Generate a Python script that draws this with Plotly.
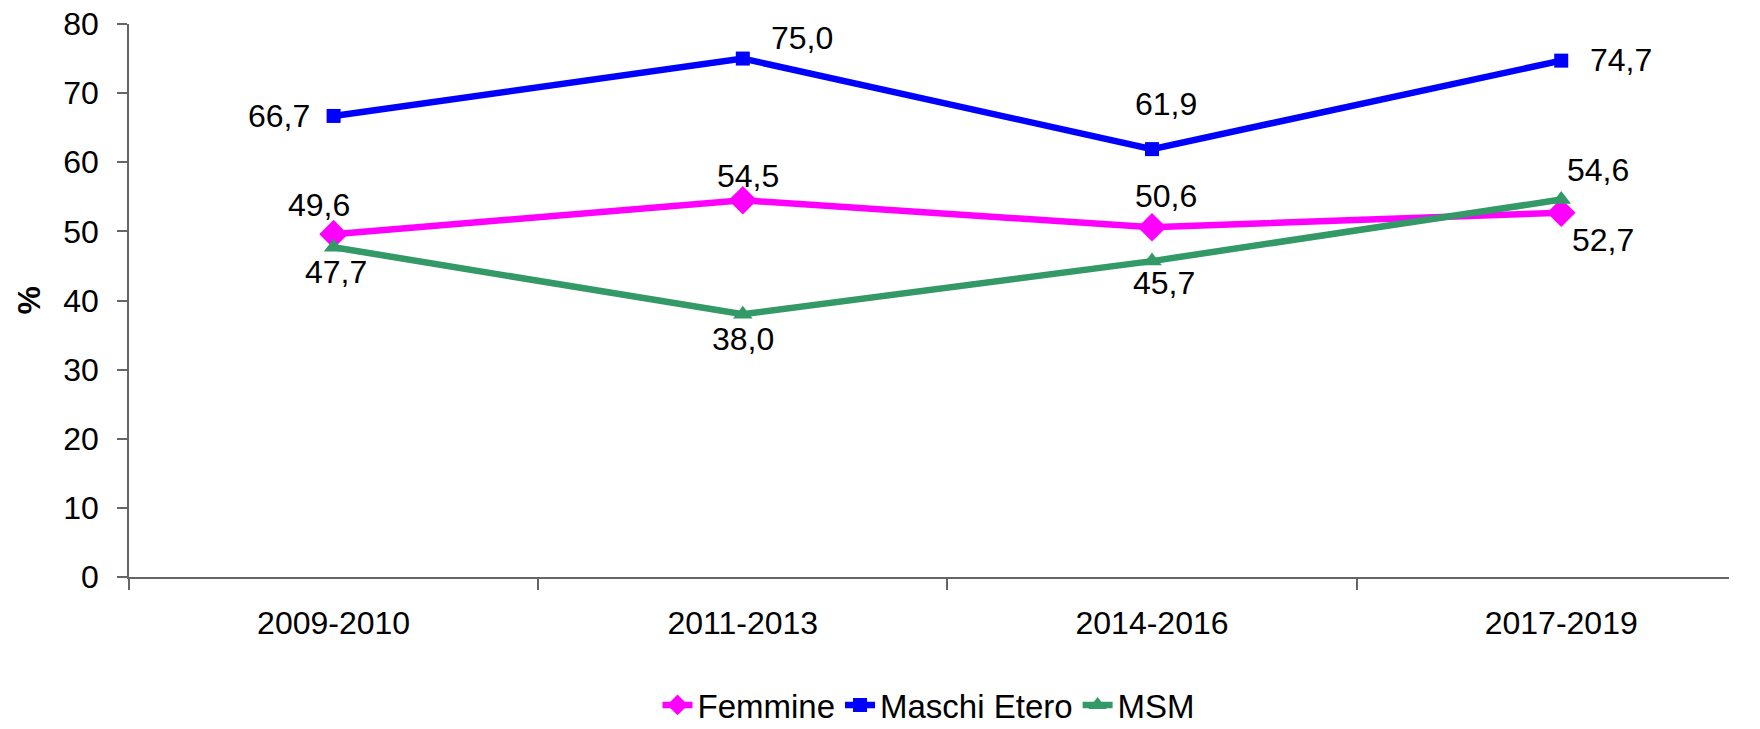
import plotly.graph_objects as go

categories = ["2009-2010", "2011-2013", "2014-2016", "2017-2019"]
femmine = [49.6, 54.5, 50.6, 52.7]
maschi_etero = [66.7, 75.0, 61.9, 74.7]
msm = [47.7, 38.0, 45.7, 54.6]
y_ticks = [0, 10, 20, 30, 40, 50, 60, 70, 80]

# label offsets (pixels) per point: (xshift, yshift, xanchor)
fem_off = [(-15, 29, "center"), (5, 24, "center"), (14, 31, "center"), (42, -27, "center")]
mas_off = [(-22, 0, "right"), (26, 21, "left"), (14, 45, "center"), (27, 1, "left")]
msm_off = [(2, -25, "center"), (0, -25, "center"), (12, -22, "center"), (37, 30, "center")]

FONT = "Liberation Sans, Arial, sans-serif"
FS = 32

series = [
    ("Femmine", femmine, "#FF00FF", "diamond", 22, fem_off),
    ("Maschi Etero", maschi_etero, "#0000FF", "square", 14, mas_off),
    ("MSM", msm, "#339966", "triangle-up", 17, msm_off),
]

fig = go.Figure()
annotations = []
for name, vals, color, sym, size, offs in series:
    fig.add_trace(go.Scatter(
        x=categories, y=vals, name=name, mode="lines+markers",
        line=dict(color=color, width=6.5),
        marker=dict(symbol=sym, size=size, color=color),
    ))
    for c, v, (dx, dy, xa) in zip(categories, vals, offs):
        annotations.append(dict(
            x=c, y=v, xref="x", yref="y",
            text=f"{v:.1f}".replace(".", ","),
            showarrow=False, xshift=dx, yshift=dy, xanchor=xa, yanchor="middle",
            font=dict(family=FONT, size=FS, color="black"),
        ))

annotations.append(dict(
    x=(28 - 129) / 1600, y=0.5, xref="paper", yref="paper", text="<b>%</b>",
    showarrow=False, textangle=-90, xanchor="center", yanchor="middle",
    font=dict(family=FONT, size=FS, color="black"),
))

fig.update_layout(
    width=1760, height=729,
    margin=dict(l=129, r=31, t=24, b=152, autoexpand=False),
    paper_bgcolor="white", plot_bgcolor="white",
    font=dict(family=FONT, size=FS, color="black"),
    showlegend=True,
    legend=dict(orientation="h", x=0.5, xanchor="center",
                yref="container", y=1 - 705 / 729, yanchor="middle",
                font=dict(family=FONT, size=33, color="black"),
                tracegroupgap=0, bgcolor="rgba(0,0,0,0)"),
    annotations=annotations,
)
fig.update_xaxes(
    type="category", range=[-0.5, 3.41], tickson="boundaries",
    ticks="outside", ticklen=11, tickcolor="#666666", tickwidth=1.5,
    showline=True, linecolor="#666666", linewidth=1.5, showgrid=False, zeroline=False,
    ticklabelstandoff=17, tickfont=dict(family=FONT, size=FS),
)
fig.update_yaxes(
    range=[0, 80], tickvals=y_ticks, ticks="outside", ticklen=10,
    tickcolor="#666666", tickwidth=1.5,
    showline=True, linecolor="#666666", linewidth=1.5, showgrid=False, zeroline=False,
    ticklabelstandoff=12, tickfont=dict(family=FONT, size=FS),
)

fig.write_html("out.html", config={"displayModeBar": False},
               post_script="document.body.style.margin='0';")
